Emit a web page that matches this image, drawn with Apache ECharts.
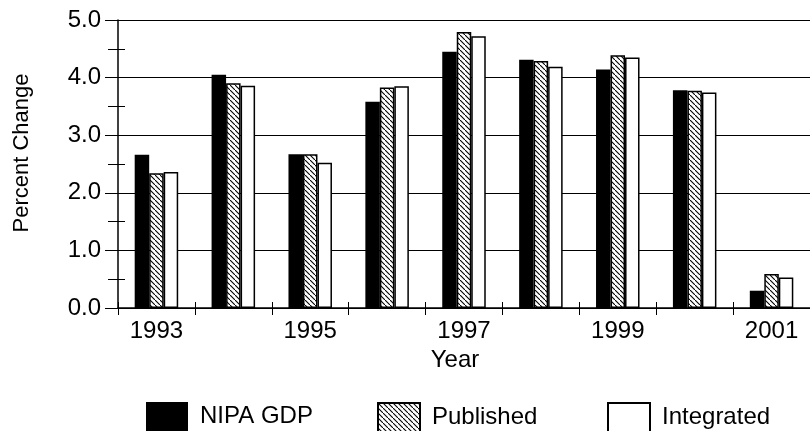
<!DOCTYPE html>
<html>
<head>
<meta charset="utf-8">
<script src="https://cdn.jsdelivr.net/npm/echarts@6/dist/echarts.min.js"></script>
<style>
  html, body { margin: 0; padding: 0; background: #fff; }
  #chart { width: 810px; height: 431px; }
</style>
</head>
<body>
<div id="chart"></div>
<script>
// years on the x axis
const years = ["1993", "1994", "1995", "1996", "1997", "1998", "1999", "2000", "2001"];
// percent change
const nipaGdp = [2.66, 4.05, 2.67, 3.58, 4.45, 4.31, 4.14, 3.78, 0.30];
const published = [2.34, 3.90, 2.67, 3.83, 4.79, 4.29, 4.39, 3.77, 0.59];
const integrated = [2.36, 3.86, 2.52, 3.85, 4.72, 4.19, 4.35, 3.74, 0.53];
const halfTicks = [0.5, 1.5, 2.5, 3.5, 4.5];

const font = "Liberation Sans";
const fs = 24;

// hatch pattern for the "Published" bars
function makeHatch() {
  const s = 5;
  const c = document.createElement("canvas");
  c.width = s;
  c.height = s;
  const ctx = c.getContext("2d");
  ctx.fillStyle = "#fff";
  ctx.fillRect(0, 0, s, s);
  ctx.strokeStyle = "#000";
  ctx.lineWidth = 1.1;
  ctx.beginPath();
  ctx.moveTo(-1, -1);
  ctx.lineTo(s + 1, s + 1);
  ctx.stroke();
  return c;
}
const hatch = { image: makeHatch(), repeat: "repeat" };

const chart = echarts.init(document.getElementById("chart"));

function legendAt(name, left) {
  return {
    data: [name],
    left: left,
    top: 402,
    padding: 0,
    itemWidth: 42,
    itemHeight: 29,
    icon: "rect",
    textStyle: { color: "#000", fontSize: fs, fontFamily: font, padding: [0, 0, 0, 7] }
  };
}

chart.setOption({
  animation: false,
  backgroundColor: "#fff",
  textStyle: { fontFamily: font },
  grid: { left: 118, right: 0, top: 20, bottom: 123 },
  legend: [
    legendAt("NIPA GDP", 146),
    legendAt("Published", 377),
    legendAt("Integrated", 607)
  ],
  xAxis: [
    {
      type: "category",
      data: years,
      name: "Year",
      nameLocation: "middle",
      nameGap: 40,
      nameTextStyle: { color: "#000", fontSize: fs, fontFamily: font, padding: [0, 18, 0, 0] },
      axisLine: { lineStyle: { color: "#000", width: 1.5 } },
      axisTick: { show: true, interval: 0, length: 7, lineStyle: { color: "#000" } },
      axisLabel: { interval: 1, color: "#000", fontSize: fs, fontFamily: font, margin: 11 }
    },
    {
      type: "category",
      data: years,
      position: "bottom",
      axisLine: { show: false },
      axisTick: { show: true, inside: true, interval: 0, length: 6, lineStyle: { color: "#000" } },
      axisLabel: { show: false }
    }
  ],
  yAxis: [
    {
      type: "value",
      min: 0,
      max: 5,
      interval: 1,
      name: "Percent Change",
      nameLocation: "middle",
      nameGap: 85,
      nameTextStyle: { color: "#000", fontSize: 22, fontFamily: font, padding: [0, 0, 0, 22] },
      axisLine: { show: true, lineStyle: { color: "#000", width: 1.5 } },
      axisTick: { show: true, length: 13, lineStyle: { color: "#000" } },
      minorTick: { show: true, splitNumber: 2, length: 10, lineStyle: { color: "#000" } },
      axisLabel: {
        color: "#000",
        fontSize: fs,
        fontFamily: font,
        margin: 17,
        formatter: (v) => v.toFixed(1)
      },
      splitLine: { show: true, lineStyle: { color: "#000", width: 1 } }
    },
    {
      type: "value",
      min: 0,
      max: 5,
      position: "left",
      axisLine: { show: false },
      axisTick: { show: true, inside: true, length: 7, customValues: halfTicks, lineStyle: { color: "#000" } },
      axisLabel: { show: false },
      splitLine: { show: false }
    }
  ],
  series: [
    {
      name: "NIPA GDP",
      type: "bar",
      data: nipaGdp,
      barWidth: 14.5,
      barGap: "0%",
      itemStyle: { color: "#000" }
    },
    {
      name: "Published",
      type: "bar",
      data: published,
      barWidth: 14.5,
      barGap: "0%",
      itemStyle: { color: hatch, borderColor: "#000", borderWidth: 1.5 }
    },
    {
      name: "Integrated",
      type: "bar",
      data: integrated,
      barWidth: 14.5,
      barGap: "0%",
      itemStyle: { color: "#fff", borderColor: "#000", borderWidth: 1.5 }
    }
  ]
});
</script>
</body>
</html>
